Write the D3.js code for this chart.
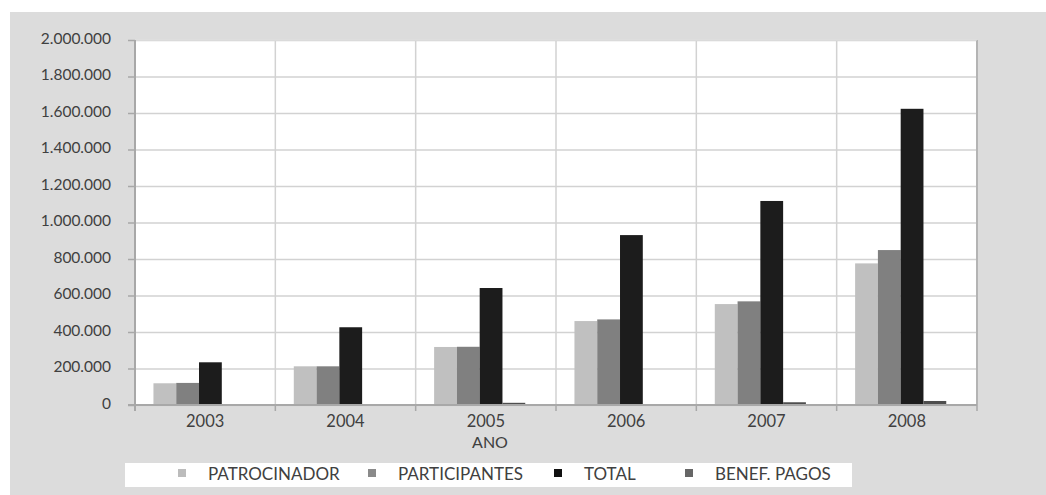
<!DOCTYPE html>
<html>
<head>
<meta charset="utf-8">
<script src="https://cdn.jsdelivr.net/npm/d3@7"></script>
<style>
  html, body { margin: 0; padding: 0; background: #fff; }
  svg { display: block; font-family: Lato, "Open Sans", sans-serif; }
</style>
</head>
<body>
<svg id="chart" width="1046" height="495"></svg>
<script>
// Contribuições e benefícios por ano
const years = ["2003", "2004", "2005", "2006", "2007", "2008"];
const seriesNames = ["PATROCINADOR", "PARTICIPANTES", "TOTAL", "BENEF. PAGOS"];
const patrocinador  = [119000, 212000, 318000, 460000, 553000, 776000];
const participantes = [121000, 212000, 319000, 469000, 568000, 849000];
const total         = [234000, 426000, 641000, 931000, 1118000, 1623000];
const benefPagos    = [0, 0, 12000, 0, 15000, 22000];
const yTicks = [0, 200000, 400000, 600000, 800000, 1000000, 1200000, 1400000, 1600000, 1800000, 2000000];
const xTitle = "ANO";

const seriesValues = [patrocinador, participantes, total, benefPagos];
const barColors = ["#c0c0c0", "#808080", "#1c1c1c", "#4e4e4e"];
const legendColors = ["#bcbcbc", "#8a8a8a", "#111111", "#666666"];
const textColor = "#404040";

const svg = d3.select("#chart");

// grey panel behind everything
svg.append("rect").attr("x", 10).attr("y", 12).attr("width", 1036).attr("height", 483).attr("fill", "#dcdcdc");

const plot = { left: 135, right: 977, top: 40, bottom: 405 };

const x = d3.scaleBand().domain(years).range([plot.left, plot.right]).padding(0);
const x1 = d3.scaleBand().domain(seriesNames).range([0, x.bandwidth()])
  .paddingInner(0).paddingOuter(1.08).align(0.375);
const y = d3.scaleLinear().domain([0, 2000000]).range([plot.bottom, plot.top]);

const fmt = d3.formatLocale({ decimal: ",", thousands: ".", grouping: [3], currency: ["R$", ""] }).format(",d");

// plot background
svg.append("rect")
  .attr("x", plot.left).attr("y", plot.top)
  .attr("width", plot.right - plot.left).attr("height", plot.bottom - plot.top)
  .attr("fill", "#ffffff");

// horizontal gridlines
svg.append("g")
  .attr("transform", `translate(${plot.left},0)`)
  .call(d3.axisLeft(y).tickValues(yTicks).tickSize(-(plot.right - plot.left)).tickFormat(""))
  .call(g => g.select(".domain").remove())
  .call(g => g.selectAll("line").attr("stroke", "#d2d2d2").attr("stroke-width", 1.5));

// vertical gridlines at category boundaries
const bounds = years.map(d => x(d)).concat([plot.right]);
svg.append("g").selectAll("line").data(bounds.slice(1)).join("line")
  .attr("x1", d => d).attr("x2", d => d)
  .attr("y1", plot.top).attr("y2", plot.bottom)
  .attr("stroke", d => d === plot.right ? "#b4b4b4" : "#d2d2d2")
  .attr("stroke-width", d => d === plot.right ? 2 : 1.5);

// top border of plot
svg.append("line")
  .attr("x1", plot.left).attr("x2", plot.right).attr("y1", plot.top).attr("y2", plot.top)
  .attr("stroke", "#e2e2e2").attr("stroke-width", 1);

// bars
const groups = svg.append("g").selectAll("g").data(years).join("g")
  .attr("transform", d => `translate(${x(d)},0)`);
groups.selectAll("rect")
  .data((d, i) => seriesNames.map((s, k) => ({ s, k, v: seriesValues[k][i] })))
  .join("rect")
  .attr("x", d => x1(d.s))
  .attr("width", x1.bandwidth())
  .attr("y", d => y(d.v))
  .attr("height", d => y(0) - y(d.v))
  .attr("fill", d => barColors[d.k]);

// y axis
const yAxis = svg.append("g")
  .attr("transform", `translate(${plot.left},0)`)
  .call(d3.axisLeft(y).tickValues(yTicks).tickSize(7).tickPadding(17).tickFormat(fmt));
yAxis.select(".domain").attr("stroke", "#a8a8a8").attr("stroke-width", 2)
  .attr("d", `M0,${plot.top}V${plot.bottom + 6}`);
yAxis.selectAll(".tick line").attr("stroke", "#a8a8a8").attr("stroke-width", 1.5);
yAxis.selectAll(".tick text").attr("fill", textColor).style("font-size", "15.5px")
  .style("font-family", "Lato, sans-serif").attr("dy", "0.2em");

// x axis with labels centered on categories
const xAxis = svg.append("g")
  .attr("transform", `translate(0,${plot.bottom})`)
  .call(d3.axisBottom(x).tickSize(0).tickPadding(10));
xAxis.select(".domain").attr("stroke", "#a8a8a8").attr("stroke-width", 2)
  .attr("d", `M${plot.left - 7},0H${plot.right}`);
xAxis.selectAll(".tick text").attr("fill", textColor).style("font-size", "16.5px")
  .style("font-family", "Lato, sans-serif");
// boundary tick marks
svg.append("g").selectAll("line").data(bounds).join("line")
  .attr("x1", d => d).attr("x2", d => d)
  .attr("y1", plot.bottom).attr("y2", plot.bottom + 6)
  .attr("stroke", "#a8a8a8").attr("stroke-width", 1.5);

// x title
svg.append("text")
  .attr("x", 490).attr("y", 448)
  .attr("text-anchor", "middle")
  .attr("fill", textColor).style("font-size", "16px")
  .text(xTitle);

// legend
svg.append("rect").attr("x", 125).attr("y", 463).attr("width", 727).attr("height", 24).attr("fill", "#ffffff");
const legendX = [178, 368, 554, 685];
const legend = svg.append("g").selectAll("g").data(seriesNames).join("g")
  .attr("transform", (d, i) => `translate(${legendX[i]},469)`);
legend.append("rect").attr("width", 8).attr("height", 8).attr("fill", (d, i) => legendColors[i]);
legend.append("text")
  .attr("x", 30).attr("y", 10.5)
  .attr("fill", textColor).style("font-size", "17px")
  .text(d => d);
</script>
</body>
</html>
